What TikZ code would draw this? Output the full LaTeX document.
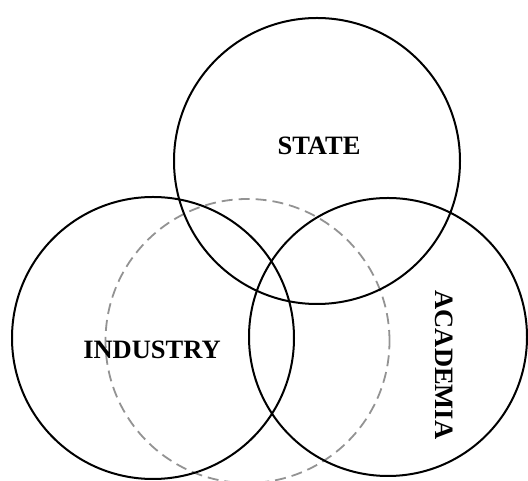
\documentclass[tikz,border=0pt]{standalone}
\usepackage{fontspec}
\setmainfont{Liberation Serif}
\usepackage{xcolor}
\usepackage{tikz}
\tikzset{
  ring/.style={line width=2pt},
  ghost/.style={line width=1.8pt,gray!85,dash pattern=on 11pt off 6pt},
  lbl/.style={font=\bfseries\fontsize{26.5}{30}\selectfont,inner sep=0pt}
}
\newcommand{\sphere}[4][ring]{\draw[#1] (#2,#3) circle[radius=#4];}

\begin{document}
\begin{tikzpicture}[x=1pt,y=1pt]
\useasboundingbox (0,0) rectangle (528,481);
\sphere[ghost]{247.5}{140}{142}
\sphere{317}{320}{143}
\sphere{153}{143}{141}
\sphere{388}{144}{139}
\node[lbl] (state) at (319,335) {STATE};
\node[lbl] (industry) at (152,131) {INDUSTRY};
\node[lbl,rotate=-90] (academia) at (444,116) {ACADEMIA};
\end{tikzpicture}
\end{document}
